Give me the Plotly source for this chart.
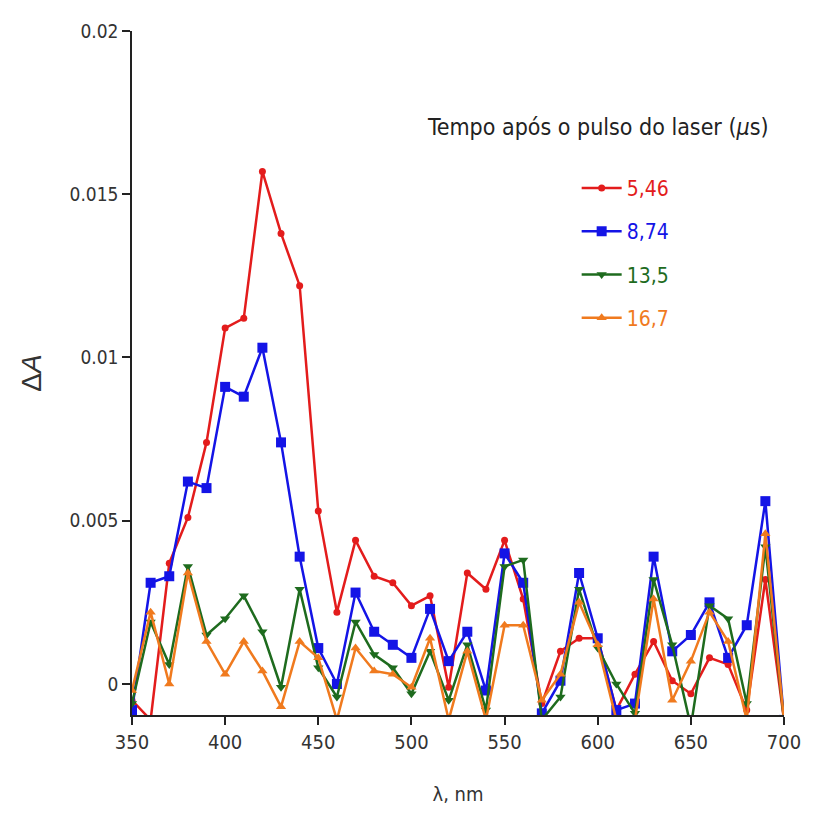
import plotly.graph_objects as go

wavelength = [350, 360, 370, 380, 390, 400, 410, 420, 430, 440, 450, 460,
              470, 480, 490, 500, 510, 520, 530, 540, 550, 560, 570, 580,
              590, 600, 610, 620, 630, 640, 650, 660, 670, 680, 690, 700]

dA_546 = [-0.0005, -0.0011, 0.0037, 0.0051, 0.0074, 0.0109, 0.0112, 0.0157,
          0.0138, 0.0122, 0.0053, 0.0022, 0.0044, 0.0033, 0.0031, 0.0024,
          0.0027, -0.0001, 0.0034, 0.0029, 0.0044, 0.0026, -0.0006, 0.0010,
          0.0014, 0.0014, -0.0008, 0.0003, 0.0013, 0.0001, -0.0003, 0.0008,
          0.0006, -0.0008, 0.0032, -0.0011]

dA_874 = [-0.0008, 0.0031, 0.0033, 0.0062, 0.0060, 0.0091, 0.0088, 0.0103,
          0.0074, 0.0039, 0.0011, 0.0000, 0.0028, 0.0016, 0.0012, 0.0008,
          0.0023, 0.0007, 0.0016, -0.0002, 0.0040, 0.0031, -0.0009, 0.0001,
          0.0034, 0.0014, -0.0008, -0.0006, 0.0039, 0.0010, 0.0015, 0.0025,
          0.0008, 0.0018, 0.0056, -0.0011]

dA_135 = [-0.0006, 0.0019, 0.0006, 0.0036, 0.0015, 0.0020, 0.0027, 0.0016,
          -0.0001, 0.0029, 0.0005, -0.0004, 0.0019, 0.0009, 0.0005, -0.0003,
          0.0010, -0.0005, 0.0012, -0.0008, 0.0036, 0.0038, -0.0011, -0.0004,
          0.0029, 0.0011, 0.0000, -0.0009, 0.0032, 0.0012, -0.0013, 0.0024,
          0.0020, -0.0006, 0.0042, -0.0011]

dA_167 = [-0.0002, 0.0022, 0.0000, 0.0034, 0.0013, 0.0003, 0.0013, 0.0004,
          -0.0007, 0.0013, 0.0008, -0.0011, 0.0011, 0.0004, 0.0003, -0.0001,
          0.0014, -0.0011, 0.0010, -0.0011, 0.0018, 0.0018, -0.0005, 0.0003,
          0.0025, 0.0012, -0.0011, -0.0011, 0.0026, -0.0005, 0.0007, 0.0022,
          0.0013, -0.0011, 0.0046, -0.0011]

series_names = ["5,46", "8,74", "13,5", "16,7"]
series_values = [dA_546, dA_874, dA_135, dA_167]
colors = ["#e31c1c", "#1414e6", "#1e6b1e", "#f07a1e"]
symbols = ["circle", "square", "triangle-down", "triangle-up"]
sizes = [7, 10, 9, 9]

y_ticks = [0, 0.005, 0.01, 0.015, 0.02]
y_ticklabels = ["0", "0.005", "0.01", "0.015", "0.02"]
x_ticks = [350, 400, 450, 500, 550, 600, 650, 700]

FONT = "DejaVu Sans Condensed, Liberation Sans, sans-serif"

fig = go.Figure()
for i, (name, vals) in enumerate(zip(series_names, series_values)):
    fig.add_trace(go.Scatter(
        x=wavelength, y=vals, mode="lines+markers",
        name=f"<span style='color:{colors[i]}'>{name}</span>",
        legendgroup=f"g{i}",
        line=dict(color=colors[i], width=2.5),
        marker=dict(symbol=symbols[i], size=sizes[i], color=colors[i]),
        cliponaxis=True,
    ))

fig.update_layout(
    width=809, height=798,
    paper_bgcolor="white", plot_bgcolor="white",
    margin=dict(l=124, r=33, t=23, b=91),
    font=dict(family=FONT, size=18, color="#333333"),
    showlegend=True,
    legend=dict(
        x=0.682, y=0.800, xanchor="left", yanchor="top",
        bgcolor="rgba(0,0,0,0)",
        font=dict(family=FONT, size=21),
        tracegroupgap=13,
        itemwidth=40,
    ),
    xaxis=dict(
        range=[350, 700], tickvals=x_ticks, automargin=False,
        showline=True, linecolor="#222222", linewidth=1.5,
        ticks="outside", ticklen=8, tickwidth=1.5, tickcolor="#222222",
        showgrid=False, zeroline=False, mirror=False,
        tickfont=dict(family=FONT, size=20, color="#333333"),
        title=dict(text="λ, nm", font=dict(family=FONT, size=20, color="#333333"), standoff=40),
    ),
    yaxis=dict(
        range=[-0.00095, 0.02], tickvals=y_ticks, ticktext=y_ticklabels, automargin=False,
        showline=True, linecolor="#222222", linewidth=1.5,
        ticks="outside", ticklen=8, tickwidth=1.5, tickcolor="#222222",
        showgrid=False, zeroline=False, mirror=False,
        tickfont=dict(family=FONT, size=19, color="#333333"),
        title=dict(text="Δ<i>A</i>", font=dict(family="Liberation Sans, Arial, sans-serif", size=28, color="#333333"), standoff=20),
    ),
    annotations=[dict(
        text="Tempo após o pulso do laser (<i>μ</i>s)",
        xref="paper", yref="paper", x=0.450, y=0.860,
        xanchor="left", yanchor="middle", showarrow=False,
        font=dict(family=FONT, size=23, color="#222222"),
    )],
)

fig.write_html("out.html")
